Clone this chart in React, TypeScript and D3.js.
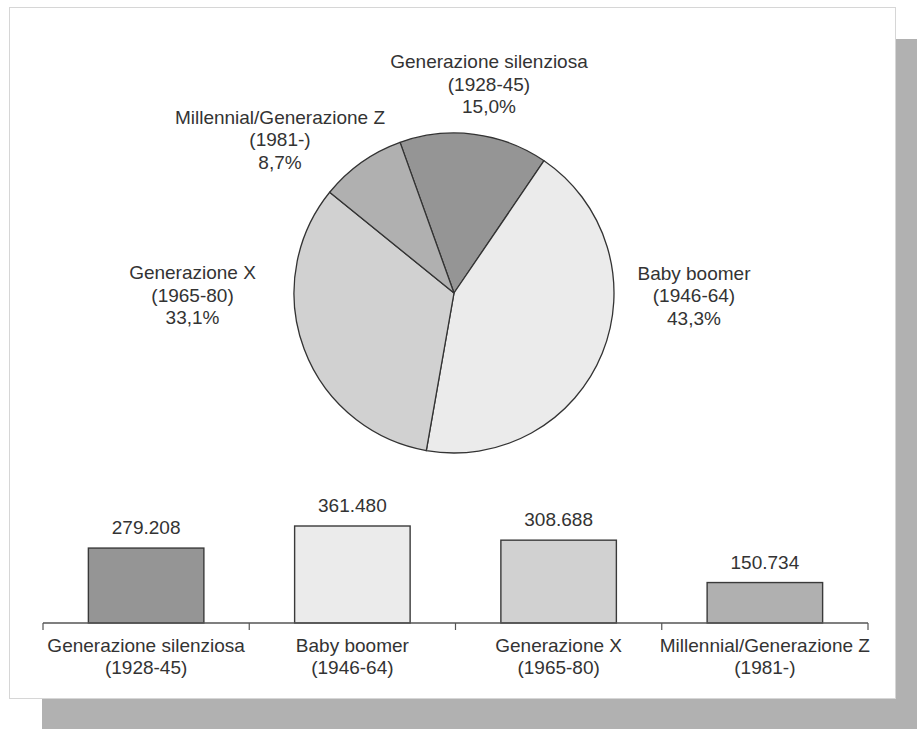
import { useEffect, useRef } from 'react'
import * as d3 from 'd3'

// Generations: order matches pie (clockwise from the top) and bars (left to right)
const generations = ['Generazione silenziosa', 'Baby boomer', 'Generazione X', 'Millennial/Generazione Z']
const years = ['(1928-45)', '(1946-64)', '(1965-80)', '(1981-)']
const shares = [15.0, 43.3, 33.1, 8.7]
const shareLabels = ['15,0%', '43,3%', '33,1%', '8,7%']
const counts = [279208, 361480, 308688, 150734]
const countLabels = ['279.208', '361.480', '308.688', '150.734']

const fills = ['#959595', '#ebebeb', '#d1d1d1', '#b0b0b0']
// label placement around the pie: [angle in degrees clockwise from north, distance]
const labelPolar: [number, number][] = [
  [9.5, 212],
  [90.6, 240],
  [269.5, 261.5],
  [311.4, 232],
]

const FONT = '"Liberation Sans", Arial, sans-serif'
const TEXT = '#333'

export default function App() {
  const svgRef = useRef<SVGSVGElement>(null)

  useEffect(() => {
    const W = 917
    const H = 729
    const svg = d3.select(svgRef.current)
    svg.selectAll('*').remove()
    svg.attr('width', W).attr('height', H)

    // shadow + panel
    svg.append('rect').attr('x', 42).attr('y', 39).attr('width', W - 42).attr('height', H - 39).attr('fill', '#b1b1b1')
    svg.append('rect')
      .attr('x', 9.5).attr('y', 7.5).attr('width', 886).attr('height', 691)
      .attr('fill', '#fff').attr('stroke', '#d6d6d6').attr('stroke-width', 1)

    // ---- Pie
    const cx = 454
    const cy = 293
    const r = 160
    const idx = d3.range(generations.length)
    const pie = d3.pie<number>()
      .sort(null)
      .value((i) => shares[i])
      .startAngle((-19.7 * Math.PI) / 180)
      .endAngle((-19.7 * Math.PI) / 180 + 2 * Math.PI)
    const arc = d3.arc<d3.PieArcDatum<number>>().innerRadius(0).outerRadius(r)

    const pg = svg.append('g').attr('transform', `translate(${cx},${cy})`)
    pg.selectAll('path.slice')
      .data(pie(idx))
      .enter()
      .append('path')
      .attr('class', 'slice')
      .attr('d', arc)
      .attr('fill', (d) => fills[d.data])
      .attr('stroke', '#333')
      .attr('stroke-width', 1.3)
      .attr('stroke-linejoin', 'round')

    const lineH = 22.5
    idx.forEach((i) => {
      const [deg, dist] = labelPolar[i]
      const a = (deg * Math.PI) / 180
      const lx = Math.sin(a) * dist
      const ly = -Math.cos(a) * dist
      const t = pg.append('text')
        .attr('text-anchor', 'middle')
        .attr('fill', TEXT)
        .style('font-family', FONT)
        .style('font-size', '19px')
      ;[generations[i], years[i], shareLabels[i]].forEach((s, k) => {
        t.append('tspan')
          .attr('x', lx)
          .attr('y', ly + (k - 1) * lineH)
          .attr('dy', '0.35em')
          .text(s)
      })
    })

    // ---- Bars
    const baseY = 623
    const x = d3.scaleBand<number>()
      .domain(idx)
      .range([43, 868])
      .paddingInner(0.44)
      .paddingOuter(0.22)
    const y = d3.scaleLinear().domain([0, d3.max(counts) as number]).range([baseY, 526])
    const step = x.step()
    const gapHalf = (step - x.bandwidth()) / 2

    const bg = svg.append('g')
    bg.selectAll('rect.bar')
      .data(idx)
      .enter()
      .append('rect')
      .attr('class', 'bar')
      .attr('x', (i) => x(i) as number)
      .attr('y', (i) => y(counts[i]))
      .attr('width', x.bandwidth())
      .attr('height', (i) => baseY - y(counts[i]))
      .attr('fill', (i) => fills[i])
      .attr('stroke', '#3a3a3a')
      .attr('stroke-width', 1.4)

    bg.selectAll('text.val')
      .data(idx)
      .enter()
      .append('text')
      .attr('class', 'val')
      .attr('x', (i) => (x(i) as number) + x.bandwidth() / 2)
      .attr('y', (i) => y(counts[i]) - 14)
      .attr('text-anchor', 'middle')
      .attr('fill', TEXT)
      .style('font-family', FONT)
      .style('font-size', '19px')
      .text((i) => countLabels[i])

    // axis line + ticks at category boundaries
    const axisColor = '#555'
    bg.append('line')
      .attr('x1', 43).attr('x2', 868)
      .attr('y1', baseY).attr('y2', baseY)
      .attr('stroke', axisColor).attr('stroke-width', 1.4)
    const tickXs = [...idx.map((i) => (x(i) as number) - gapHalf), 868]
    bg.selectAll('line.tick')
      .data(tickXs)
      .enter()
      .append('line')
      .attr('class', 'tick')
      .attr('x1', (d) => d).attr('x2', (d) => d)
      .attr('y1', baseY).attr('y2', baseY + 7)
      .attr('stroke', axisColor).attr('stroke-width', 1.2)

    idx.forEach((i) => {
      const t = bg.append('text')
        .attr('text-anchor', 'middle')
        .attr('fill', TEXT)
        .style('font-family', FONT)
        .style('font-size', '19px')
      ;[generations[i], years[i]].forEach((s, k) => {
        t.append('tspan')
          .attr('x', (x(i) as number) + x.bandwidth() / 2)
          .attr('y', 652 + k * 22)
          .text(s)
      })
    })
  }, [])

  return (
    <svg
      ref={svgRef}
      style={{ position: 'fixed', left: 0, top: 0, display: 'block', background: '#fff' }}
    />
  )
}
